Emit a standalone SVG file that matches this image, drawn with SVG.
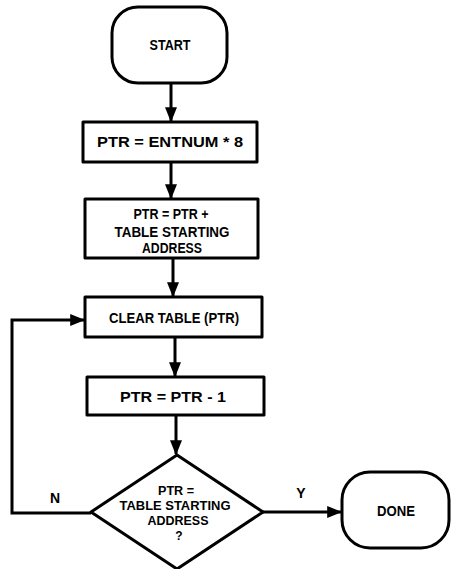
<svg xmlns="http://www.w3.org/2000/svg" width="452" height="569" viewBox="0 0 452 569">
<style>
.shape{fill:#fff;stroke:#000;stroke-width:3;stroke-linejoin:round}
.line{fill:none;stroke:#000;stroke-width:3;stroke-linejoin:miter}
text{font-family:"Liberation Sans",Arial,sans-serif;font-weight:bold;font-size:14px;fill:#000;text-anchor:middle}
.dt{font-size:12px}
</style>
<defs>
<marker id="arr" markerWidth="5" markerHeight="4" refX="4.6" refY="2" orient="auto" markerUnits="strokeWidth">
<path d="M0,0 L5,2 L0,4 Z" fill="#000"/>
</marker>
</defs>
<g id="connectors">
<line class="line" x1="171" y1="83" x2="171" y2="121" marker-end="url(#arr)"/>
<line class="line" x1="171" y1="162" x2="171" y2="198" marker-end="url(#arr)"/>
<line class="line" x1="173" y1="258" x2="173" y2="296" marker-end="url(#arr)"/>
<line class="line" x1="175" y1="337" x2="175" y2="376" marker-end="url(#arr)"/>
<line class="line" x1="176" y1="415" x2="176" y2="454" marker-end="url(#arr)"/>
<polyline class="line" points="91,513 12,513 12,320 84,320" marker-end="url(#arr)"/>
<line class="line" x1="263" y1="512" x2="341" y2="512" marker-end="url(#arr)"/>
<text x="55" y="503">N</text>
<text x="301" y="498">Y</text>
</g>
<g id="start">
<rect class="shape" x="112" y="7" width="115" height="76" rx="26"/>
<text x="170" y="50" textLength="41" lengthAdjust="spacingAndGlyphs">START</text>
</g>
<g id="ptr-entnum">
<rect class="shape" x="83" y="122" width="174" height="40"/>
<text x="170" y="147" textLength="146" lengthAdjust="spacingAndGlyphs">PTR = ENTNUM * 8</text>
</g>
<g id="ptr-add">
<rect class="shape" x="85" y="199" width="173" height="59"/>
<text x="171" y="219" textLength="75" lengthAdjust="spacingAndGlyphs">PTR = PTR +</text>
<text x="172" y="237" textLength="115" lengthAdjust="spacingAndGlyphs">TABLE STARTING</text>
<text x="172" y="253" textLength="60" lengthAdjust="spacingAndGlyphs">ADDRESS</text>
</g>
<g id="clear">
<rect class="shape" x="85" y="297" width="177" height="40"/>
<text x="174" y="323" textLength="130" lengthAdjust="spacingAndGlyphs">CLEAR TABLE (PTR)</text>
</g>
<g id="decrement">
<rect class="shape" x="87" y="377" width="177" height="38"/>
<text x="173" y="402" textLength="106" lengthAdjust="spacingAndGlyphs">PTR = PTR - 1</text>
</g>
<g id="decision">
<polygon class="shape" points="177,455 263,512 177,569 91,512"/>
<text class="dt" x="176" y="495" textLength="36" lengthAdjust="spacingAndGlyphs">PTR =</text>
<text class="dt" x="175" y="510" textLength="111" lengthAdjust="spacingAndGlyphs">TABLE STARTING</text>
<text class="dt" x="178" y="525" textLength="61" lengthAdjust="spacingAndGlyphs">ADDRESS</text>
<text class="dt" x="179" y="540">?</text>
</g>
<g id="done">
<rect class="shape" x="342" y="472" width="107" height="76" rx="28"/>
<text x="396" y="516" textLength="38" lengthAdjust="spacingAndGlyphs">DONE</text>
</g>
</svg>
